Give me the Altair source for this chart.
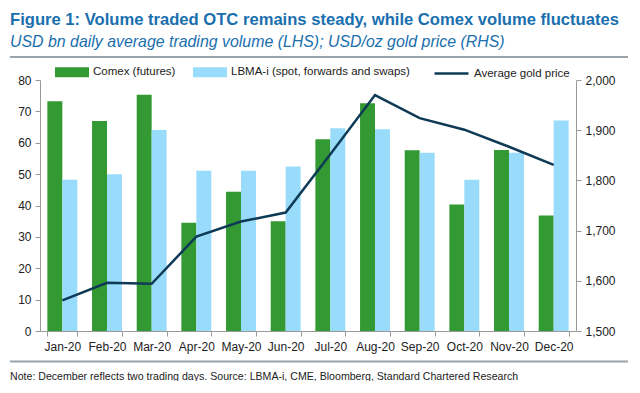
import altair as alt
import pandas as pd

months = ["Jan-20", "Feb-20", "Mar-20", "Apr-20", "May-20", "Jun-20",
          "Jul-20", "Aug-20", "Sep-20", "Oct-20", "Nov-20", "Dec-20"]
comex = [73.2, 66.9, 75.3, 34.5, 44.4, 35.0, 61.1, 72.6, 57.6, 40.3, 57.7, 36.8]
lbma = [48.2, 50.0, 64.1, 51.1, 51.1, 52.4, 64.6, 64.3, 56.8, 48.2, 56.8, 67.1]
gold = [1561, 1596, 1594, 1688, 1718, 1736, 1852, 1970, 1924, 1901, 1867, 1831]
series_names = ["Comex (futures)", "LBMA-i (spot, forwards and swaps)"]
line_name = "Average gold price"
left_ticks = [0, 10, 20, 30, 40, 50, 60, 70, 80]
right_ticks = [1500, 1600, 1700, 1800, 1900, 2000]

title_text = "Figure 1: Volume traded OTC remains steady, while Comex volume fluctuates"
subtitle_text = "USD bn daily average trading volume (LHS); USD/oz gold price (RHS)"
note_text = ("Note: December reflects two trading days. Source: LBMA-i, CME, "
             "Bloomberg, Standard Chartered Research")

FONT = "Liberation Sans"
BLUE_T = "#1a6fae"
GREEN = "#339933"
LIGHT = "#99dbfb"
NAVY = "#0e3a56"
GREY = "#9a9a9a"
SEP = "#9ba3ab"

bars_df = pd.DataFrame({
    "month": months * 2,
    "series": [series_names[0]] * len(months) + [series_names[1]] * len(months),
    "value": comex + lbma,
})
line_df = pd.DataFrame({"month": months, "price": gold, "name": [line_name] * len(months)})

xscale = alt.Scale(domain=months, paddingInner=0.33, paddingOuter=0.165)
xaxis = alt.Axis(title=None, labelAngle=0, tickBand="extent", domainColor=GREY,
                 tickColor=GREY, tickSize=5, labelFont=FONT, labelFontSize=12,
                 labelColor="#222222", labelPadding=5, grid=False)

bars = alt.Chart(bars_df).mark_bar().encode(
    x=alt.X("month:N", scale=xscale, axis=xaxis, sort=months),
    xOffset=alt.XOffset("series:N", scale=alt.Scale(domain=series_names, paddingInner=0, paddingOuter=0)),
    y=alt.Y("value:Q", scale=alt.Scale(domain=[0, 80], nice=False),
            axis=alt.Axis(title=None, values=left_ticks, grid=False, domainColor=GREY,
                          tickColor=GREY, tickSize=5, labelFont=FONT, labelFontSize=12,
                          labelColor="#222222", labelPadding=4, orient="left")),
    color=alt.Color("series:N", scale=alt.Scale(domain=series_names, range=[GREEN, LIGHT]),
                    legend=alt.Legend(title=None, orient="none", legendX=15, legendY=-25,
                                      direction="horizontal",
                                      symbolType="M-1,-0.3H1V0.3H-1Z", symbolSize=1156,
                                      symbolStrokeWidth=0, labelFont=FONT, labelFontSize=11.5,
                                      labelColor="#222222", columnPadding=17, labelOffset=4,
                                      labelLimit=400, padding=0)),
)

line = alt.Chart(line_df).mark_line(strokeWidth=2.5).encode(
    x=alt.X("month:N", scale=xscale, sort=months),
    y=alt.Y("price:Q", scale=alt.Scale(domain=[1500, 2000], nice=False),
            axis=alt.Axis(title=None, values=right_ticks, format=",.0f", grid=False,
                          domainColor=GREY, tickColor=GREY, tickSize=5, labelFont=FONT,
                          labelFontSize=12, labelColor="#222222", labelPadding=4,
                          orient="right")),
    stroke=alt.Stroke("name:N", scale=alt.Scale(domain=[line_name], range=[NAVY]),
                      legend=alt.Legend(title=None, orient="none", legendX=393, legendY=-25,
                                        symbolType="stroke", symbolSize=1156,
                                        symbolStrokeWidth=2.5, labelFont=FONT,
                                        labelFontSize=11.5, labelColor="#222222",
                                        labelOffset=4, labelLimit=300, padding=0)),
)

def text_layer(txt, x, y, size, color, weight="normal", style="normal", baseline="alphabetic"):
    return alt.Chart(pd.DataFrame({"t": [txt]})).mark_text(
        align="left", baseline=baseline, font=FONT, fontSize=size, color=color,
        fontWeight=weight, fontStyle=style,
    ).encode(x=alt.value(x), y=alt.value(y), text="t:N")

title = text_layer(title_text, -30, -55, 16.6, BLUE_T, weight="bold")
subtitle = text_layer(subtitle_text, -30, -33.5, 15.9, BLUE_T, style="italic")
note = text_layer(note_text, -30, 297, 10.6, "#222222", baseline="middle")

def sep_layer(name, y):
    return alt.Chart(pd.DataFrame({"t": [name]})).mark_rule(
        color=SEP, strokeWidth=2
    ).encode(x=alt.value(-30), x2=alt.value(588), y=alt.value(y), y2=alt.value(y),
             detail="t:N")

sep_top = sep_layer("top separator", -23)
sep_bot = sep_layer("bottom separator", 281.5)

chart = alt.layer(bars, line, title, subtitle, note, sep_top, sep_bot).resolve_scale(
    y="independent"
).properties(
    width=536, height=251,
    autosize=alt.AutoSizeParams(type="none"),
    padding={"left": 32, "top": 72, "right": 56, "bottom": 50},
).configure_view(stroke=None)

chart.save("out.html", embed_options={"renderer": "svg", "actions": False})
